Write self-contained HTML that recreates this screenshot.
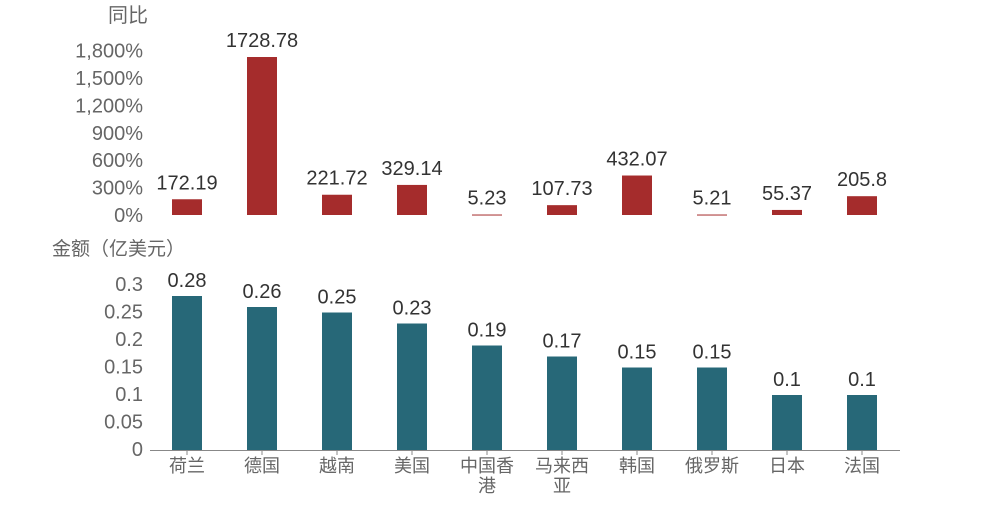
<!DOCTYPE html>
<html><head><meta charset="utf-8"><style>
body{margin:0;background:#fff;width:1000px;height:500px;overflow:hidden}
text{font-family:"Liberation Sans","Noto Sans CJK SC",sans-serif}
</style></head><body>
<svg id="c" width="1000" height="500"></svg>
<script>
const categories=["荷兰","德国","越南","美国","中国香港","马来西亚","韩国","俄罗斯","日本","法国"];
const yoyValues=[172.19,1728.78,221.72,329.14,5.23,107.73,432.07,5.21,55.37,205.8];
const amountValues=[0.28,0.26,0.25,0.23,0.19,0.17,0.15,0.15,0.1,0.1];
const yoyTicks=[0,300,600,900,1200,1500,1800];
const yoyTickLabels=["0%","300%","600%","900%","1,200%","1,500%","1,800%"];
const amtTicks=[0,0.05,0.1,0.15,0.2,0.25,0.3];
const amtTickLabels=["0","0.05","0.1","0.15","0.2","0.25","0.3"];
const svg=document.getElementById('c');const NS="http://www.w3.org/2000/svg";
function mk(t,a,txt){const e=document.createElementNS(NS,t);for(const k in a)e.setAttribute(k,a[k]);if(txt!=null)e.textContent=txt;svg.appendChild(e);return e;}
const xC=i=>187+i*75;
const yTop=v=>215-v*164.5/1800;
const yBot=v=>450-v*550;
let e;
e=mk('text',{x:108,y:22,'font-size':20,fill:'#666'},'同比');


e=mk('text',{x:52,y:255,'font-size':19,fill:'#666'},'金额（亿美元）');


yoyTicks.forEach((t,i)=>{e=mk('text',{x:143,y:yTop(t)+7,'font-size':20,fill:'#666','text-anchor':'end'},yoyTickLabels[i]);

});
amtTicks.forEach((t,i)=>{e=mk('text',{x:143,y:yBot(t)+6,'font-size':20,fill:'#666','text-anchor':'end'},amtTickLabels[i]);

});
yoyValues.forEach((v,i)=>{const y=yTop(v);
e=mk('rect',{x:xC(i)-15,y:y,width:30,height:Math.max(215-y,1),fill:'#a52c2c'});


e=mk('text',{x:xC(i),y:y-10,'font-size':20,fill:'#333','text-anchor':'middle'},String(v));

});
amountValues.forEach((v,i)=>{const y=yBot(v);
e=mk('rect',{x:xC(i)-15,y:y,width:30,height:450-y,fill:'#276878'});


e=mk('text',{x:xC(i),y:y-9,'font-size':20,fill:'#333','text-anchor':'middle'},String(v));

});
e=mk('line',{x1:150,y1:450.5,x2:900,y2:450.5,stroke:'#888','stroke-width':1});


categories.forEach((c,i)=>{
e=mk('line',{x1:xC(i),y1:450,x2:xC(i),y2:455,stroke:'#888'});


const lines=c.length>3?[c.slice(0,3),c.slice(3)]:[c];
lines.forEach((l,j)=>{e=mk('text',{x:xC(i),y:472+j*20,'font-size':18,fill:'#666','text-anchor':'middle'},l);

});
});
</script>
</body></html>
